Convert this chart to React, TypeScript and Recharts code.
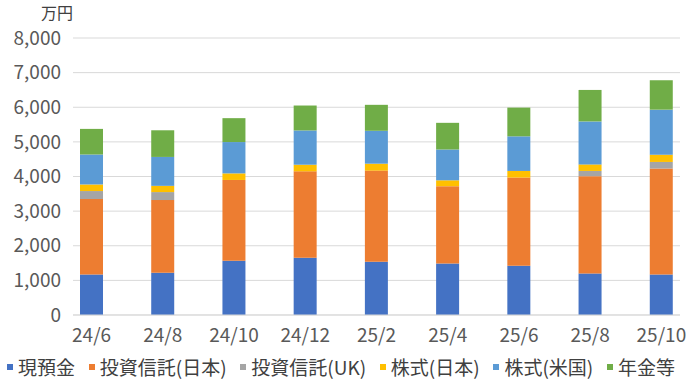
import { BarChart, Bar, XAxis, YAxis, CartesianGrid, Legend } from 'recharts';

const months = ['24/6', '24/8', '24/10', '24/12', '25/2', '25/4', '25/6', '25/8', '25/10'];

const cash = [1170, 1220, 1570, 1650, 1540, 1490, 1420, 1200, 1170];
const fundJp = [2180, 2100, 2330, 2500, 2630, 2230, 2550, 2810, 3060];
const fundUk = [230, 230, 0, 0, 0, 0, 0, 150, 190];
const stockJp = [190, 180, 190, 190, 200, 170, 190, 190, 210];
const stockUs = [865, 835, 905, 990, 950, 890, 1000, 1240, 1300];
const pension = [740, 770, 690, 720, 750, 770, 830, 910, 850];

const yTicks = [0, 1000, 2000, 3000, 4000, 5000, 6000, 7000, 8000];

const series = [
  { key: 'cash', name: '現預金', color: '#4472C4' },
  { key: 'fundJp', name: '投資信託(日本)', color: '#ED7D31' },
  { key: 'fundUk', name: '投資信託(UK)', color: '#A5A5A5' },
  { key: 'stockJp', name: '株式(日本)', color: '#FFC000' },
  { key: 'stockUs', name: '株式(米国)', color: '#5B9BD5' },
  { key: 'pension', name: '年金等', color: '#70AD47' },
];

const data = months.map((m, i) => ({
  month: m,
  cash: cash[i],
  fundJp: fundJp[i],
  fundUk: fundUk[i],
  stockJp: stockJp[i],
  stockUs: stockUs[i],
  pension: pension[i],
}));

const FONT = '"Noto Sans CJK JP", "Noto Sans", sans-serif';

const LegendContent = () => (
  <div
    style={{
      display: 'flex',
      justifyContent: 'space-between',
      alignItems: 'center',
      padding: '0 5px 0 7px',
      fontFamily: FONT,
      fontSize: 19,
      lineHeight: '27px',
      color: '#404040',
      whiteSpace: 'nowrap',
    }}
  >
    {series.map((s) => (
      <div key={s.key} style={{ display: 'flex', alignItems: 'center' }}>
        <span style={{ width: 6, height: 6, background: s.color, marginRight: 5, display: 'inline-block' }} />
        <span>{s.name}</span>
      </div>
    ))}
  </div>
);

export default function App() {
  return (
    <div style={{ position: 'absolute', left: 0, top: 0, width: 700, height: 383, background: '#fff' }}>
      <BarChart
        width={700}
        height={383}
        data={data}
        margin={{ top: 38, right: 20, bottom: 3, left: 0 }}
        barSize={23}
      >
        <CartesianGrid vertical={false} stroke="#d9d9d9" strokeWidth={1} />
        <XAxis
          dataKey="month"
          height={38}
          padding={{ left: -17, right: -17 }}
          axisLine={{ stroke: '#d9d9d9' }}
          tickLine={false}
          tickMargin={8}
          tick={{ fill: '#595959', fontSize: 19, fontFamily: FONT }}
          interval={0}
        />
        <YAxis
          width={73}
          domain={[0, 8000]}
          ticks={yTicks}
          axisLine={false}
          tickLine={false}
          tickMargin={6}
          tick={{ fill: '#595959', fontSize: 19, fontFamily: FONT }}
          tickFormatter={(v: number) => v.toLocaleString('en-US')}
          label={{
            content: () => (
              <text x={57} y={19} textAnchor="middle" fill="#404040" fontSize={16} fontFamily={FONT}>
                万円
              </text>
            ),
          }}
        />
        <Legend verticalAlign="bottom" content={<LegendContent />} />
        {series.map((s) => (
          <Bar key={s.key} dataKey={s.key} name={s.name} stackId="a" fill={s.color} isAnimationActive={false} />
        ))}
      </BarChart>
    </div>
  );
}
